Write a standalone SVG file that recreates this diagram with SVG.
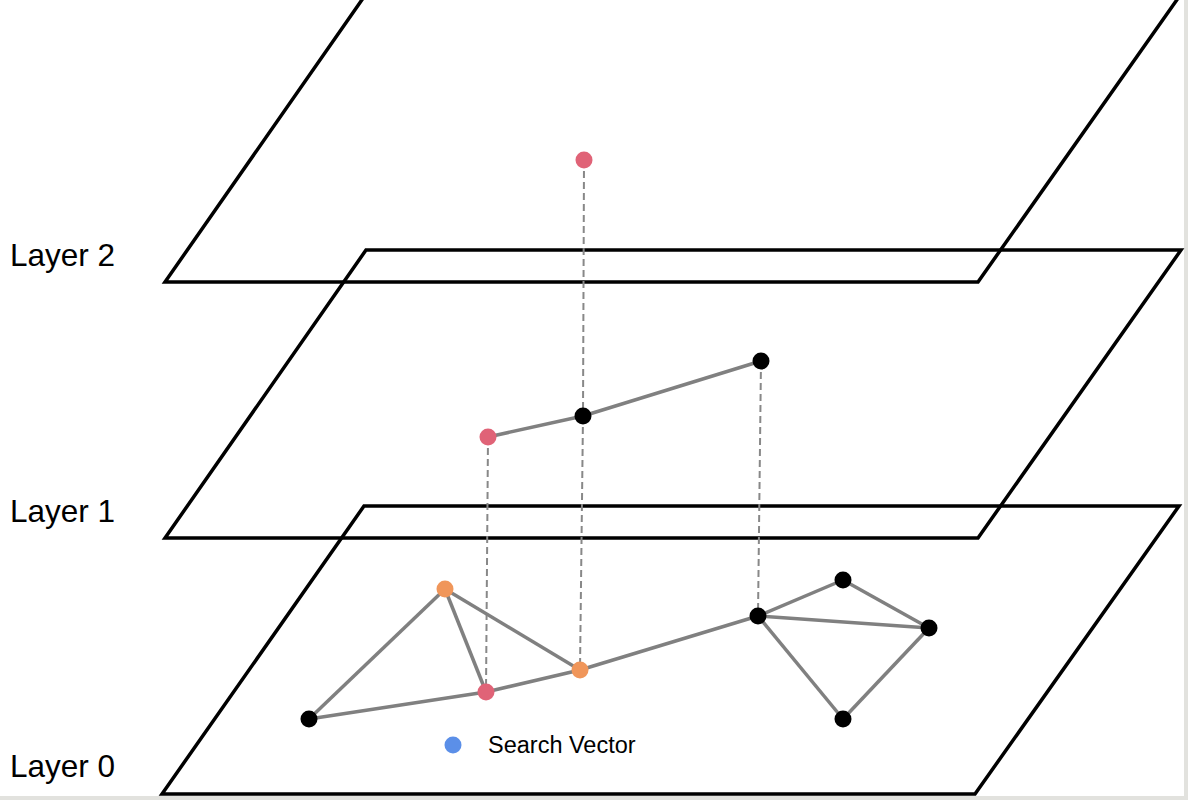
<svg xmlns="http://www.w3.org/2000/svg" width="1188" height="800" viewBox="0 0 1188 800">
<style>
.plane{fill:none;stroke:#000;stroke-width:3.5;stroke-linejoin:miter}
.edge{stroke:#808080;stroke-width:3.5;fill:none}
.dash{stroke:#888;stroke-width:2;stroke-dasharray:7 4;fill:none}
.lbl{font-family:"Liberation Sans",Arial,sans-serif;font-size:31.5px;fill:#000}
.leg{font-family:"Liberation Sans",Arial,sans-serif;font-size:23.5px;fill:#000}
.blk{fill:#000}
.pink{fill:#e06377}
.orange{fill:#f0965a}
.blue{fill:#5b8fe8}
</style>
<rect x="0" y="0" width="1188" height="800" fill="#e2e2de"/>
<rect x="0" y="0" width="1184" height="796" fill="#fff"/>
<g id="layer2">
<polygon class="plane" points="366,-6 1181,-6 978,282 165,282"/>
<text class="lbl" x="10" y="266">Layer 2</text>
</g>
<g id="layer1">
<polygon class="plane" points="366,250 1181,250 978,538 165,538"/>
<text class="lbl" x="10" y="522">Layer 1</text>
</g>
<g id="layer0">
<polygon class="plane" points="364,506 1179,506 975,794 162,794"/>
<text class="lbl" x="10" y="777">Layer 0</text>
</g>
<g id="connectors">
<line class="dash" x1="584" y1="160" x2="583" y2="416"/>
<line class="dash" x1="583" y1="416" x2="580" y2="670"/>
<line class="dash" x1="488" y1="437" x2="486" y2="692"/>
<line class="dash" x1="761" y1="361" x2="758" y2="616"/>
<line class="edge" x1="488" y1="437" x2="583" y2="416"/>
<line class="edge" x1="583" y1="416" x2="761" y2="361"/>
<line class="edge" x1="309" y1="719" x2="445" y2="589"/>
<line class="edge" x1="309" y1="719" x2="486" y2="692"/>
<line class="edge" x1="445" y1="589" x2="486" y2="692"/>
<line class="edge" x1="445" y1="589" x2="580" y2="670"/>
<line class="edge" x1="486" y1="692" x2="580" y2="670"/>
<line class="edge" x1="580" y1="670" x2="758" y2="616"/>
<line class="edge" x1="758" y1="616" x2="843" y2="580"/>
<line class="edge" x1="758" y1="616" x2="929" y2="628"/>
<line class="edge" x1="843" y1="580" x2="929" y2="628"/>
<line class="edge" x1="758" y1="616" x2="843" y2="719"/>
<line class="edge" x1="929" y1="628" x2="843" y2="719"/>
</g>
<g id="n2a"><circle class="pink" cx="584" cy="160" r="8.5"/></g>
<g id="n1a"><circle class="pink" cx="488" cy="437" r="8.5"/></g>
<g id="n1b"><circle class="blk" cx="583" cy="416" r="8.5"/></g>
<g id="n1c"><circle class="blk" cx="761" cy="361" r="8.5"/></g>
<g id="n0a"><circle class="blk" cx="309" cy="719" r="8.5"/></g>
<g id="n0b"><circle class="orange" cx="445" cy="589" r="8.5"/></g>
<g id="n0c"><circle class="pink" cx="486" cy="692" r="8.5"/></g>
<g id="n0d"><circle class="orange" cx="580" cy="670" r="8.5"/></g>
<g id="n0e"><circle class="blk" cx="758" cy="616" r="8.5"/></g>
<g id="n0f"><circle class="blk" cx="843" cy="580" r="8.5"/></g>
<g id="n0g"><circle class="blk" cx="929" cy="628" r="8.5"/></g>
<g id="n0h"><circle class="blk" cx="843" cy="719" r="8.5"/></g>
<g id="legend">
<circle class="blue" cx="453" cy="745" r="8.5"/>
<text class="leg" x="488" y="753">Search Vector</text>
</g>
</svg>
